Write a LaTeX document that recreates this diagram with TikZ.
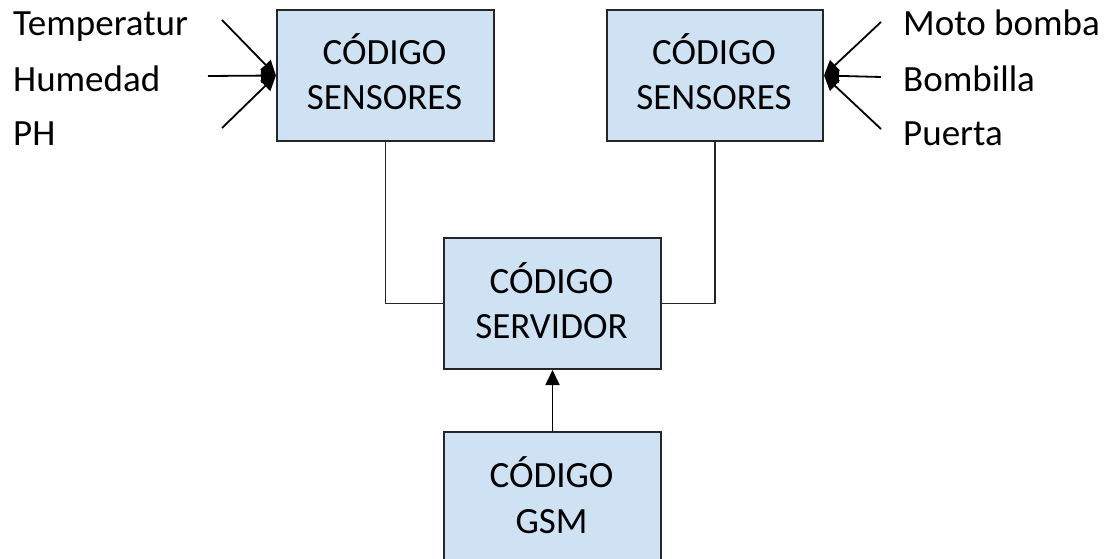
\documentclass[tikz,border=0pt]{standalone}
\usepackage{fontspec}
\setmainfont{Carlito}
\usetikzlibrary{arrows.meta}
\definecolor{boxblue}{RGB}{207,226,243}
\begin{document}
\begin{tikzpicture}[x=1pt,y=-1pt,
  box/.style={draw=black!85, line width=2pt, fill=boxblue, inner sep=0pt, anchor=north west, minimum height=131pt},
  txt/.style={anchor=base, inner sep=0pt, font=\fontsize{37}{45}\selectfont},
  lbl/.style={anchor=base west, inner sep=0pt, font=\fontsize{37}{45}\selectfont},
  wire/.style={draw=black!85, line width=1.8pt},
  arr/.style={draw=black, line width=1.8pt, -{Triangle[length=15pt,width=14pt]}}]
\useasboundingbox (0,0) rectangle (1104,559);
\clip (0,0) rectangle (1104,559);
\node[box, minimum width=217pt] (L) at (276,9) {};
\node[box, minimum width=216pt] (R) at (606,9) {};
\node[box, minimum width=217pt] (S) at (443,237) {};
\node[box, minimum width=217pt, minimum height=200pt] (G) at (443,431) {};
\node[txt] (l1) at (384.5,65) {CÓDIGO};
\node[txt] (l2) at (384.5,110) {SENSORES};
\node[txt] (r1) at (714,65) {CÓDIGO};
\node[txt] (r2) at (714,110) {SENSORES};
\node[txt] (s1) at (551.5,293) {CÓDIGO};
\node[txt] (s2) at (551.5,338) {SERVIDOR};
\node[txt] (g1) at (551.5,487) {CÓDIGO};
\node[txt] (g2) at (551.5,533) {GSM};
\node[lbl] (t) at (13,36) {Temperatur};
\node[lbl] (h) at (13,92) {Humedad};
\node[lbl] (p) at (13,146) {PH};
\node[lbl] (m) at (903,36) {Moto bomba};
\node[lbl] (b) at (903,92) {Bombilla};
\node[lbl] (u) at (903,146) {Puerta};
\coordinate (a1) at (222,20);
\coordinate (a2) at (208,76);
\coordinate (a3) at (222,128);
\coordinate (c1) at (881,22);
\coordinate (c2) at (881,77);
\coordinate (c3) at (881,129);
\draw[arr] (a1) -- (L.west);
\draw[arr] (a2) -- (L.west);
\draw[arr] (a3) -- (L.west);
\draw[arr] (c1) -- (R.east);
\draw[arr] (c2) -- (R.east);
\draw[arr] (c3) -- (R.east);
\draw[wire] (L.south) |- (S.west);
\draw[wire] (R.south) |- (S.east);
\draw[arr] (G.north) -- (S.south);
\end{tikzpicture}
\end{document}
